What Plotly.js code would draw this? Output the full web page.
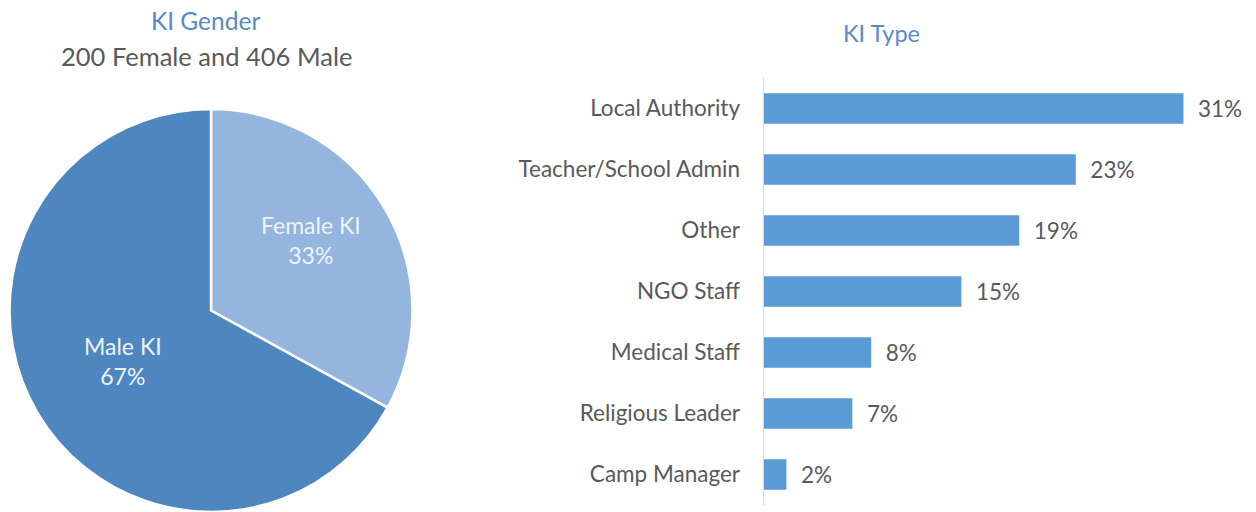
<!DOCTYPE html>
<html>
<head>
<meta charset="utf-8">
<script src="https://cdn.plot.ly/plotly-3.0.1.min.js"></script>
<style>html,body{margin:0;padding:0;background:#fff;}#chart{width:1256px;height:512px;}</style>
</head>
<body>
<div id="chart"></div>
<script>
// Pie data
const genderLabels = ["Female KI", "Male KI"];
const genderCounts = [200, 406];
// Bar data (percent of KIs)
const typeCategories = ["Local Authority", "Teacher/School Admin", "Other", "NGO Staff", "Medical Staff", "Religious Leader", "Camp Manager"];
const typeValues = [31.2, 23.2, 19.0, 14.7, 8.0, 6.6, 1.7];
const typeLabels = ["31%", "23%", "19%", "15%", "8%", "7%", "2%"];

const FONT = "Lato, 'Open Sans', sans-serif";
const GRAY = "#595959";
const BLUE_TITLE = "#5A8AC4";

const total = genderCounts.reduce((a, b) => a + b, 0);
const pieText = genderLabels.map((l, i) => l + "<br>" + Math.round(100 * genderCounts[i] / total) + "%");

const pie = {
  type: "pie",
  labels: genderLabels,
  values: genderCounts,
  sort: false,
  direction: "clockwise",
  rotation: 0,
  marker: {colors: ["#94B5DE", "#4E86BF"], line: {color: "#ffffff", width: 2.5}},
  textinfo: "none",
  hoverinfo: "none",
  domain: {x: [0.0064, 0.3296], y: [0, 0.787]},
  showlegend: false
};

const bar = {
  type: "bar",
  orientation: "h",
  y: typeCategories,
  x: typeValues,
  text: typeLabels.map(t => "\u00a0\u00a0" + t),
  textposition: "outside",
  cliponaxis: false,
  textfont: {family: FONT, size: 22.5, color: GRAY},
  marker: {color: "#5B9BD5"},
  xaxis: "x",
  yaxis: "y",
  hoverinfo: "none",
  showlegend: false
};

// label anchor positions for the pie slices (paper coords)
const piePos = [[311 / 1256, 1 - 240 / 512], [123 / 1256, 1 - 361 / 512]];

const layout = {
  width: 1256, height: 512,
  margin: {l: 0, r: 0, t: 0, b: 0},
  paper_bgcolor: "#ffffff",
  plot_bgcolor: "#ffffff",
  font: {family: FONT, color: GRAY},
  bargap: 0.5,
  xaxis: {domain: [0.6079, 0.983], range: [0, 35], visible: false, fixedrange: true},
  yaxis: {
    domain: [0.0137, 0.8477],
    categoryorder: "array", categoryarray: typeCategories,
    autorange: "reversed",
    showline: true, linecolor: "#D9D9D9", linewidth: 1,
    showgrid: false, zeroline: false, ticks: "",
    ticklabelstandoff: 18,
    tickfont: {family: FONT, size: 22.5, color: GRAY}
  },
  annotations: [
    {text: "KI Gender", x: 205 / 1256, xref: "paper", y: 1 - 20 / 512, yref: "paper", showarrow: false,
     xanchor: "center", yanchor: "middle", font: {family: FONT, size: 24.5, color: BLUE_TITLE}},
    {text: "200 Female and 406 Male", x: 206 / 1256, xref: "paper", y: 1 - 56 / 512, yref: "paper", showarrow: false,
     xanchor: "center", yanchor: "middle", font: {family: FONT, size: 25.5, color: GRAY}},
    {text: "KI Type", x: 881 / 1256, xref: "paper", y: 1 - 33 / 512, yref: "paper", showarrow: false,
     xanchor: "center", yanchor: "middle", font: {family: FONT, size: 23.5, color: BLUE_TITLE}}
  ].concat(pieText.map((t, i) => ({
    text: t, x: piePos[i][0], xref: "paper", y: piePos[i][1], yref: "paper", showarrow: false,
    xanchor: "center", yanchor: "middle", font: {family: FONT, size: 23, color: "#EEF4FB"}
  })))
};

Plotly.newPlot("chart", [pie, bar], layout, {displayModeBar: false, staticPlot: true});
</script>
</body>
</html>
